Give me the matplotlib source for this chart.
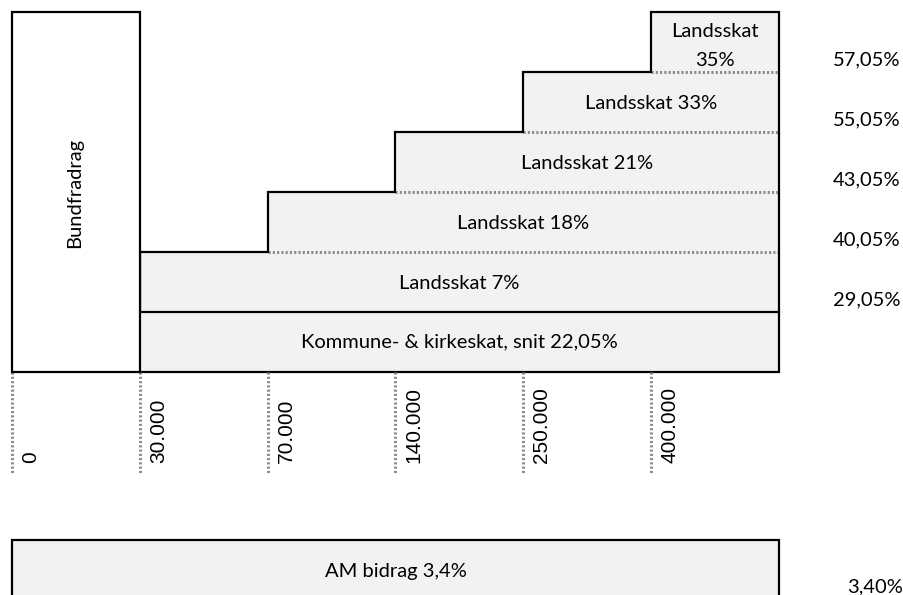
import numpy as np
import matplotlib.pyplot as plt

# Danish income tax steps
thresholds = ["0", "30.000", "70.000", "140.000", "250.000", "400.000"]
land_rates = [7, 18, 21, 33, 35]          # landsskat, %
land_start = [1, 2, 3, 4, 5]              # bracket index where each band starts
kommune_rate = 22.05
am_rate = 3.4
total_labels = ["29,05%", "40,05%", "43,05%", "55,05%", "57,05%"]

FONT = "Lato"
FS = 14.5
fill = "#f2f2f2"
dot_col = "#8c8c8c"
dots = (0, (0.7, 0.7))
n = len(thresholds)   # right edge of the bands


def comma(v, d):
    return f"{v:.{d}f}".replace(".", ",")


fig = plt.figure(figsize=(9.04, 5.95), dpi=100)
ax = fig.add_axes([0, 0, 1, 1])
ax.set_xlim(-0.094, 6.978)
ax.set_ylim(-3.717, 6.2)
ax.axis("off")

# Bundfradrag box
ax.bar(0.5, n, width=1, bottom=0, color="white", edgecolor="black", linewidth=1.6, zorder=3)
ax.text(0.49, 2.99, "Bundfradrag", rotation=90, ha="center", va="center",
        fontsize=FS, family=FONT, zorder=4)

# Kommune row
ax.barh(0.5, n - 1, left=1, height=1, color=fill, edgecolor="none")
ax.text((1 + n) / 2, 0.5, f"Kommune- & kirkeskat, snit {comma(kommune_rate, 2)}%",
        ha="center", va="center", fontsize=FS, family=FONT)

# landsskat rows
for i, (r, s) in enumerate(zip(land_rates, land_start)):
    y = i + 1
    ax.barh(y + 0.5, n - s, left=s, height=1, color=fill, edgecolor="none")
    if n - s > 1:
        ax.text((s + n) / 2, y + 0.47, f"Landsskat {r}%", ha="center", va="center",
                fontsize=FS, family=FONT)
    else:
        # narrow box: label wraps onto two lines
        ax.text((s + n) / 2, y + 0.44, f"Landsskat\n{r}%", ha="center", va="center",
                fontsize=FS, family=FONT, linespacing=1.85)
    if i > 0:
        ax.plot([s, n], [y, y], color=dot_col, linestyle=dots, linewidth=2.2)

# staircase outline
xs = [1]
ys = [1]
for i, s in enumerate(land_start):
    xs += [s, s]
    ys += [i + 1, i + 2]
xs += [n, n, 1]
ys += [len(land_start) + 1, 0, 0]
ax.plot(xs, ys, color="black", linewidth=1.6, solid_joinstyle="miter")
ax.plot([1, n], [1, 1], color="black", linewidth=1.6)

# total marginal rates
for i, lab in enumerate(total_labels):
    ax.text(6.95, i + 1.2, lab, ha="right", va="center", fontsize=FS, family=FONT)

# threshold ticks
for i, t in enumerate(thresholds):
    ax.plot([i, i], [0, -1.68], color=dot_col, linestyle=dots, linewidth=2.2)
    ax.text(i + 0.07, -1.52, t, rotation=90, ha="left", va="bottom",
            fontsize=15, family="Liberation Sans")

# AM bidrag box
ax.bar(n / 2, 2, width=n, bottom=-4.8, color=fill, edgecolor="black", linewidth=1.6)
ax.text(n / 2, -3.32, f"AM bidrag {comma(am_rate, 1)}%", ha="center", va="center",
        fontsize=FS, family=FONT)
ax.text(6.97, -3.58, f"{comma(am_rate, 2)}%", ha="right", va="center",
        fontsize=FS, family=FONT)

fig.savefig("out.png", dpi=100)
